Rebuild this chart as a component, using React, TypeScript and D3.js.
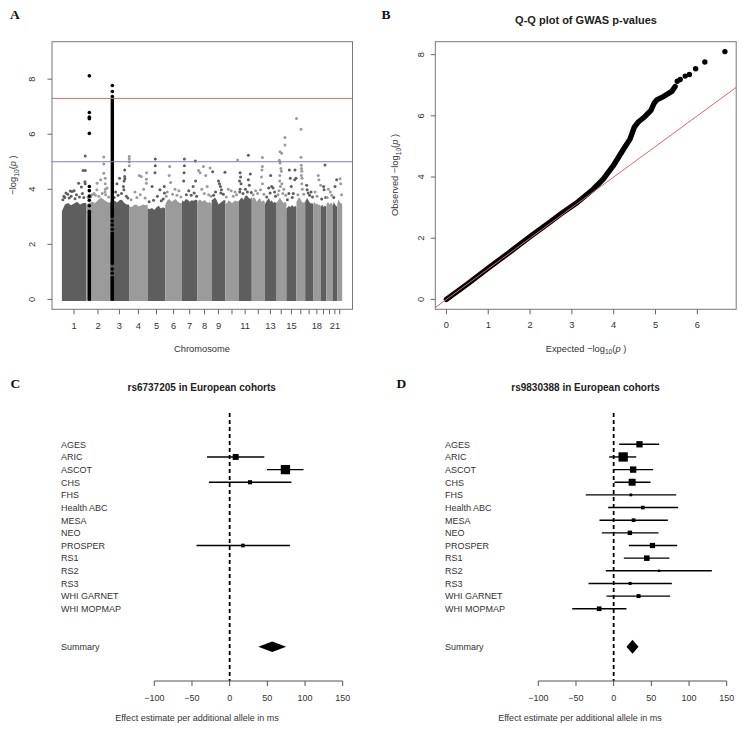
import React from "react";
import * as d3 from "d3";

// ---------- Panel A: Manhattan plot data ----------
const chromLengthsMb = [249, 243, 198, 191, 181, 171, 159, 146, 141, 136, 135, 134, 115, 107, 103, 90, 81, 78, 59, 63, 48, 51];
const chromTickLabels = ["1", "2", "3", "4", "5", "6", "7", "8", "9", "", "11", "", "13", "", "15", "", "", "18", "", "", "21", ""];
// upper edge of the dense SNP band, sampled evenly along each chromosome (-log10 p)
const bandTops = [
  [3.2, 3.45, 3.5, 3.42, 3.48, 3.55, 3.45, 3.5, 3.5],
  [3.45, 3.5, 3.55, 3.5, 3.6, 3.7, 3.62, 3.55, 3.5],
  [3.55, 3.5, 3.58, 3.52, 3.6, 3.62, 3.5, 3.45, 3.45],
  [3.4, 3.35, 3.42, 3.45, 3.38, 3.4, 3.45, 3.42, 3.45],
  [3.3, 3.28, 3.32, 3.25, 3.35, 3.4, 3.3, 3.35, 3.3],
  [3.45, 3.6, 3.65, 3.55, 3.6, 3.65, 3.55, 3.5, 3.5],
  [3.6, 3.55, 3.65, 3.62, 3.55, 3.6, 3.58, 3.62, 3.6],
  [3.5, 3.62, 3.6, 3.55, 3.62, 3.55, 3.5, 3.55, 3.45],
  [3.6, 3.65, 3.7, 3.6, 3.45, 3.5, 3.55, 3.6, 3.6],
  [3.45, 3.5, 3.6, 3.55, 3.5, 3.55, 3.6, 3.55, 3.6],
  [3.55, 3.65, 3.7, 3.62, 3.75, 3.78, 3.7, 3.65, 3.7],
  [3.6, 3.7, 3.68, 3.55, 3.62, 3.68, 3.55, 3.6, 3.55],
  [3.45, 3.55, 3.62, 3.68, 3.55, 3.6, 3.5, 3.55, 3.5],
  [3.5, 3.55, 3.62, 3.7, 3.62, 3.55, 3.5, 3.55, 3.5],
  [3.3, 3.35, 3.4, 3.35, 3.4, 3.42, 3.35, 3.4, 3.35],
  [3.55, 3.62, 3.7, 3.68, 3.62, 3.55, 3.5, 3.55, 3.5],
  [3.55, 3.62, 3.68, 3.62, 3.55, 3.5, 3.48, 3.5, 3.45],
  [3.45, 3.55, 3.5, 3.45, 3.5, 3.45, 3.42, 3.45, 3.4],
  [3.35, 3.4, 3.45, 3.4, 3.35, 3.4, 3.38, 3.4, 3.35],
  [3.45, 3.5, 3.55, 3.5, 3.45, 3.5, 3.48, 3.5, 3.45],
  [3.4, 3.45, 3.55, 3.5, 3.45, 3.42, 3.4, 3.38, 3.35],
  [3.45, 3.55, 3.62, 3.6, 3.55, 3.5, 3.48, 3.5, 3.45],
];
// individual SNPs above the band: [chromosome, position (Mb), -log10 p]
const fringeSnps: [number, number, number][] = [
  [1, 240, 5.21], [1, 218, 4.68], [1, 240, 4.68], [1, 172, 4.22], [1, 42, 3.86], [1, 86, 3.94], [1, 105, 3.92], [1, 125, 3.95], [1, 200, 4.08], [1, 240, 4.2], [1, 236, 4.27], [1, 150, 3.8], [1, 20, 3.75], [1, 60, 3.82],
  [1, 10, 3.62], [1, 30, 3.7], [1, 75, 3.68], [1, 95, 3.75], [1, 135, 3.66], [1, 180, 3.72], [1, 210, 3.85], [1, 225, 3.7],
  [2, 113, 4.22], [2, 110, 3.98], [2, 181, 5.17], [2, 181, 4.92], [2, 181, 4.58], [2, 196, 4.4], [2, 196, 4.2], [2, 198, 4.0], [2, 194, 3.9], [2, 150, 4.35], [2, 80, 3.85], [2, 215, 4.05], [2, 60, 3.8],
  [2, 20, 3.7], [2, 45, 3.72], [2, 95, 3.78], [2, 130, 3.75], [2, 165, 3.85], [2, 200, 3.8], [2, 230, 3.72],
  [3, 153, 4.7], [3, 153, 4.46], [3, 147, 4.3], [3, 140, 4.1], [3, 145, 3.98], [3, 100, 4.4], [3, 73, 4.2], [3, 155, 4.38], [3, 60, 3.9], [3, 120, 3.85],
  [3, 45, 3.7], [3, 85, 3.78], [3, 170, 3.75], [3, 185, 3.68],
  [4, 2, 5.19], [4, 2, 5.1], [4, 2, 5.0], [4, 2, 4.85], [4, 105, 4.5], [4, 125, 4.46], [4, 180, 4.6], [4, 178, 4.36], [4, 178, 4.22], [4, 60, 3.9], [4, 150, 4.0],
  [4, 20, 3.62], [4, 80, 3.7], [4, 115, 3.8], [4, 165, 3.68],
  [5, 78, 5.1], [5, 78, 4.85], [5, 75, 4.6], [5, 45, 4.1], [5, 126, 3.98], [5, 170, 4.1], [5, 172, 3.86], [5, 100, 3.75],
  [5, 15, 3.55], [5, 60, 3.6], [5, 140, 3.58], [5, 160, 3.65],
  [6, 45, 4.83], [6, 40, 4.5], [6, 55, 4.25], [6, 100, 4.0], [6, 140, 3.95], [6, 20, 3.9],
  [6, 10, 3.75], [6, 75, 3.82], [6, 120, 3.78], [6, 160, 3.72],
  [7, 25, 5.1], [7, 25, 4.85], [7, 22, 4.6], [7, 18, 4.3], [7, 137, 5.03], [7, 140, 4.3], [7, 115, 4.1], [7, 125, 3.86], [7, 70, 3.95],
  [7, 45, 3.8], [7, 95, 3.78], [7, 150, 3.75],
  [8, 12, 4.68], [8, 61, 4.83], [8, 130, 4.77], [8, 27, 4.6], [8, 85, 4.5], [8, 100, 4.1], [8, 45, 4.0],
  [8, 70, 3.85], [8, 115, 3.8], [8, 140, 3.75],
  [9, 11, 4.64], [9, 137, 4.62], [9, 70, 4.3], [9, 80, 4.2], [9, 90, 4.1], [9, 100, 3.98], [9, 95, 3.86], [9, 40, 3.9],
  [9, 20, 3.78], [9, 120, 3.82],
  [10, 126, 5.06], [10, 60, 3.95], [10, 100, 3.9], [10, 30, 4.0],
  [10, 10, 3.72], [10, 80, 3.75], [10, 115, 3.8],
  [11, 15, 4.6], [11, 20, 4.45], [11, 10, 4.3], [11, 25, 4.2], [11, 15, 4.0], [11, 12, 3.9], [11, 100, 5.24], [11, 120, 4.55], [11, 100, 4.35], [11, 110, 4.15], [11, 70, 4.0],
  [11, 45, 3.85], [11, 90, 3.9], [11, 130, 3.88],
  [12, 109, 5.15], [12, 109, 4.83], [12, 105, 4.7], [12, 100, 4.45], [12, 110, 4.2], [12, 90, 3.98], [12, 40, 3.95],
  [12, 15, 3.8], [12, 60, 3.85], [12, 125, 3.82],
  [13, 60, 4.5], [13, 40, 4.05], [13, 70, 4.1], [13, 85, 4.05], [13, 55, 3.86], [13, 100, 3.9],
  [13, 20, 3.72], [13, 110, 3.75],
  [14, 41, 5.36], [14, 58, 5.31], [14, 92, 5.88], [14, 92, 5.61], [14, 35, 5.05], [14, 41, 4.95], [14, 50, 4.75], [14, 55, 4.65], [14, 40, 4.5], [14, 38, 4.3], [14, 45, 4.1], [14, 30, 3.95], [14, 60, 4.2], [14, 80, 4.0],
  [14, 20, 3.8], [14, 70, 3.85], [14, 100, 3.78],
  [15, 30, 4.7], [15, 40, 4.4], [15, 50, 4.1], [15, 85, 4.35], [15, 98, 4.4], [15, 25, 3.85], [15, 70, 3.85], [15, 88, 4.7],
  [15, 10, 3.62], [15, 60, 3.7],
  [16, 1, 6.57], [16, 47, 6.18], [16, 47, 5.16], [16, 50, 4.87], [16, 52, 4.75], [16, 55, 4.65], [16, 50, 4.5], [16, 58, 4.4], [16, 55, 4.2], [16, 60, 4.0],
  [16, 15, 3.8], [16, 75, 3.82],
  [17, 15, 4.15], [17, 20, 3.98], [17, 30, 3.86], [17, 60, 3.9],
  [17, 45, 3.78], [17, 75, 3.72],
  [18, 53, 4.5], [18, 60, 4.35], [18, 78, 4.15], [18, 20, 3.9],
  [18, 40, 3.75],
  [19, 45, 4.88], [19, 30, 4.1], [19, 35, 3.98],
  [19, 10, 3.65], [19, 52, 3.7],
  [20, 40, 3.9], [20, 55, 3.78], [20, 20, 4.0],
  [20, 8, 3.7],
  [21, 42, 4.35], [21, 25, 4.1],
  [21, 12, 3.7],
  [22, 29, 4.38], [22, 36, 4.2],
  [22, 45, 3.8],
];
// highlighted loci (black): chromosome, position, dense runs and separate SNPs
const leadChroms = [2, 3];
const leadPositionsMb = [33, 26];
const leadRuns: [number, number][][] = [
  [[0, 3.2]],
  [[0, 0.8], [1.3, 2.4], [3.0, 7.3]],
];
const leadPoints: number[][] = [
  [3.4, 3.6, 3.75, 3.95, 4.1, 6.03, 6.56, 6.62, 6.79, 8.12],
  [0.95, 1.1, 2.55, 2.7, 2.85, 7.37, 7.55, 7.77],
];
const manhattanYTicks = [0, 2, 4, 6, 8];
const genomeWideLine = 7.3;
const suggestiveLine = 5;

// ---------- Panel B: Q-Q plot data ----------
const qqCurve: [number, number][] = [
  [0, 0], [0.5, 0.5], [1, 1.02], [1.5, 1.53], [2, 2.05], [2.5, 2.55], [2.72, 2.78], [3.12, 3.16], [3.51, 3.6], [3.75, 3.93],
  [3.99, 4.37], [4.23, 4.9], [4.39, 5.24], [4.49, 5.62], [4.59, 5.8], [4.75, 5.98], [4.89, 6.18], [4.97, 6.42], [5.03, 6.52],
  [5.19, 6.63], [5.39, 6.8], [5.47, 6.96],
];
const qqTail: [number, number][] = [
  [5.52, 7.13], [5.59, 7.19], [5.71, 7.3], [5.81, 7.35], [5.96, 7.54], [6.18, 7.76], [6.66, 8.1],
];
const qqXTicks = [0, 1, 2, 3, 4, 5, 6];
const qqYTicks = [0, 2, 4, 6, 8];

// ---------- Panels C & D: forest plots ----------
const cohorts = ["AGES", "ARIC", "ASCOT", "CHS", "FHS", "Health ABC", "MESA", "NEO", "PROSPER", "RS1", "RS2", "RS3", "WHI GARNET", "WHI MOPMAP"];
const cEst = [null, 8, 74, 27, null, null, null, null, 17.6, null, null, null, null, null];
const cLo = [null, -30, 49.5, -27.5, null, null, null, null, -44, null, null, null, null, null];
const cHi = [null, 46, 98, 82, null, null, null, null, 80, null, null, null, null, null];
const cSummary = [38, 56.5, 75];
const dEst = [34.3, 12.6, 25.9, 24.5, 22.8, 38.7, 26.4, 21.5, 51.5, 44, 60.4, 21.9, 33, -19.2];
const dLo = [7.3, -6, -0.3, 1, -37, -7.3, -18.8, -15.7, 20.1, 13.5, -10.4, -33.4, -9.5, -55];
const dHi = [60.4, 30, 52.4, 48.9, 83, 85.6, 71.9, 59.5, 84.3, 74, 130.3, 77.2, 75, 17];
const dSummary = [17, 25, 33];
const forestTicks = [-100, -50, 0, 50, 100, 150];

const SANS = "Liberation Sans, Arial, Helvetica, sans-serif";
const SERIF = "Liberation Serif, Times New Roman, serif";

function LogP({ prefix }: { prefix?: string }) {
  return (
    <>
      {prefix}−log<tspan fontSize="0.72em" dy="2.5">10</tspan>
      <tspan dy="-2.5">(</tspan>
      <tspan fontStyle="italic">p</tspan> )
    </>
  );
}

function Manhattan() {
  const starts: number[] = [];
  chromLengthsMb.forEach((l, i) => starts.push(i === 0 ? 0 : starts[i - 1] + chromLengthsMb[i - 1]));
  const total = d3.sum(chromLengthsMb);
  const x = d3.scaleLinear().domain([0, total]).range([61.9, 342.2]);
  const y = d3.scaleLinear().domain([-0.36, 9.36]).range([309.3, 41.7]);
  const box = { l: 52, r: 352.5, t: 41.7, b: 309.3 };
  const dark = "#5e5e5e";
  const light = "#9b9b9b";
  const colorOf = (chr: number) => (chr % 2 === 1 ? dark : light);
  const area = d3
    .area<[number, number]>()
    .x((d) => x(d[0]))
    .y0(y(0) + 1.6)
    .y1((d) => y(d[1]));
  return (
    <g>
      {bandTops.map((tops, i) => {
        const n = tops.length;
        const pts: [number, number][] = tops.map((v, k) => [starts[i] + (chromLengthsMb[i] * k) / (n - 1), v]);
        return <path key={"b" + i} d={area(pts) || ""} fill={colorOf(i + 1)} />;
      })}
      {fringeSnps.map(([c, p, v], i) => (
        <circle key={"f" + i} cx={x(starts[c - 1] + p)} cy={y(v)} r={1.5} fill={colorOf(c)} />
      ))}
      {leadChroms.map((c, j) => {
        const cx = x(starts[c - 1] + leadPositionsMb[j]);
        return (
          <g key={"l" + j}>
            {leadRuns[j].map(([a, b], k) => (
              <line key={k} x1={cx} x2={cx} y1={y(a)} y2={y(b)} stroke="#000" strokeWidth={3.4} strokeLinecap="round" />
            ))}
            {leadPoints[j].map((v, k) => (
              <circle key={"p" + k} cx={cx} cy={y(v)} r={1.8} fill="#000" />
            ))}
          </g>
        );
      })}
      <line x1={box.l} x2={box.r} y1={y(genomeWideLine)} y2={y(genomeWideLine)} stroke="#e46a6a" strokeWidth={1} />
      <line x1={box.l} x2={box.r} y1={y(suggestiveLine)} y2={y(suggestiveLine)} stroke="#7a7ad8" strokeWidth={1} />
      <rect x={box.l} y={box.t} width={box.r - box.l} height={box.b - box.t} fill="none" stroke="#777" strokeWidth={1} />
      {manhattanYTicks.map((t) => (
        <g key={"yt" + t}>
          <line x1={box.l} x2={box.l - 4.5} y1={y(t)} y2={y(t)} stroke="#666" />
          <text transform={`translate(35,${y(t)}) rotate(-90)`} textAnchor="middle" fontSize={9.3} fill="#333">
            {t}
          </text>
        </g>
      ))}
      {chromLengthsMb.map((l, i) => {
        const cx = x(starts[i] + l / 2);
        return (
          <g key={"xt" + i}>
            <line x1={cx} x2={cx} y1={box.b} y2={box.b + 5} stroke="#666" />
            {chromTickLabels[i] && (
              <text x={cx} y={328.5} textAnchor="middle" fontSize={9.3} fill="#333">
                {chromTickLabels[i]}
              </text>
            )}
          </g>
        );
      })}
      <text x={202} y={351.5} textAnchor="middle" fontSize={9.3} fill="#333">
        Chromosome
      </text>
      <text transform={`translate(16,175) rotate(-90)`} textAnchor="middle" fontSize={9.3} fill="#333">
        <LogP />
      </text>
      <text x={10} y={18.5} fontFamily={SERIF} fontWeight="bold" fontSize={13.5} fill="#111">
        A
      </text>
    </g>
  );
}

function QQ() {
  const x = d3.scaleLinear().domain([-0.266, 6.93]).range([435.3, 736.2]);
  const y = d3.scaleLinear().domain([-0.324, 8.424]).range([309.3, 41.7]);
  const box = { l: 435.3, r: 736.2, t: 41.7, b: 309.3 };
  const line = d3
    .line<[number, number]>()
    .x((d) => x(d[0]))
    .y((d) => y(d[1]));
  const [d0, d1] = x.domain();
  return (
    <g>
      <path d={line(qqCurve) || ""} fill="none" stroke="#000" strokeWidth={5.4} strokeLinecap="round" strokeLinejoin="round" />
      {qqTail.map((d, i) => (
        <circle key={i} cx={x(d[0])} cy={y(d[1])} r={2.7} fill="#000" />
      ))}
      <line x1={x(d0)} y1={y(d0)} x2={x(d1)} y2={y(d1)} stroke="#cf6b6b" strokeWidth={1} />
      <rect x={box.l} y={box.t} width={box.r - box.l} height={box.b - box.t} fill="none" stroke="#777" strokeWidth={1} />
      {qqYTicks.map((t) => (
        <g key={"yt" + t}>
          <line x1={box.l} x2={box.l - 4.5} y1={y(t)} y2={y(t)} stroke="#666" />
          <text transform={`translate(424,${y(t)}) rotate(-90)`} textAnchor="middle" fontSize={9.3} fill="#333">
            {t}
          </text>
        </g>
      ))}
      {qqXTicks.map((t) => (
        <g key={"xt" + t}>
          <line x1={x(t)} x2={x(t)} y1={box.b} y2={box.b + 5} stroke="#666" />
          <text x={x(t)} y={328} textAnchor="middle" fontSize={9.3} fill="#333">
            {t}
          </text>
        </g>
      ))}
      <text x={586} y={351.5} textAnchor="middle" fontSize={9.3} fill="#333">
        <LogP prefix="Expected " />
      </text>
      <text transform={`translate(398,175) rotate(-90)`} textAnchor="middle" fontSize={9.3} fill="#333">
        <LogP prefix="Observed " />
      </text>
      <text x={586} y={24} textAnchor="middle" fontSize={11} fontWeight="bold" fill="#222">
        Q-Q plot of GWAS p-values
      </text>
      <text x={381.5} y={18.5} fontFamily={SERIF} fontWeight="bold" fontSize={13.5} fill="#111">
        B
      </text>
    </g>
  );
}

type ForestProps = {
  letter: string;
  letterX: number;
  title: string;
  titleX: number;
  labelX: number;
  range: [number, number];
  est: (number | null)[];
  lo: (number | null)[];
  hi: (number | null)[];
  summary: number[];
  xLabelX: number;
};

function Forest(props: ForestProps) {
  const { letter, letterX, title, titleX, labelX, range, est, lo, hi, summary, xLabelX } = props;
  const x = d3.scaleLinear().domain([-100, 150]).range(range);
  const rowY = (i: number) => 444.3 + i * 12.65;
  const summaryRow = cohorts.length + 2;
  const axisY = 681;
  const widths = est.map((e, i) => (e === null ? Infinity : (hi[i] as number) - (lo[i] as number)));
  const minW = d3.min(widths) as number;
  const maxBox = 9.3;
  const [sLo, sEst, sHi] = summary;
  const sh = (maxBox * Math.sqrt(minW / (sHi - sLo))) / 2;
  const sy = rowY(summaryRow);
  return (
    <g>
      <text x={letterX} y={388} fontFamily={SERIF} fontWeight="bold" fontSize={13.5} fill="#111">
        {letter}
      </text>
      <text x={titleX} y={391} textAnchor="middle" fontSize={10} fontWeight="bold" fill="#222">
        {title}
      </text>
      {cohorts.map((c, i) => (
        <text key={c} x={labelX} y={rowY(i) + 3.3} fontSize={9} fill="#333">
          {c}
        </text>
      ))}
      <text x={labelX} y={sy + 3.3} fontSize={9} fill="#333">
        Summary
      </text>
      <line x1={x(0)} x2={x(0)} y1={413} y2={axisY} stroke="#000" strokeWidth={1.8} strokeDasharray="4,3" />
      {est.map((e, i) => {
        if (e === null) return null;
        const s = (maxBox * minW) / widths[i];
        return (
          <g key={"r" + i}>
            <line x1={x(lo[i] as number)} x2={x(hi[i] as number)} y1={rowY(i)} y2={rowY(i)} stroke="#000" strokeWidth={1.4} />
            <rect x={x(e) - s / 2} y={rowY(i) - s / 2} width={s} height={s} fill="#000" />
          </g>
        );
      })}
      <polygon
        points={`${x(sLo)},${sy} ${x(sEst)},${sy - sh} ${x(sHi)},${sy} ${x(sEst)},${sy + sh}`}
        fill="#000"
      />
      <line x1={x(-100)} x2={x(150)} y1={axisY} y2={axisY} stroke="#555" />
      {forestTicks.map((t) => (
        <g key={"t" + t}>
          <line x1={x(t)} x2={x(t)} y1={axisY} y2={axisY + 5} stroke="#555" />
          <text x={x(t)} y={701} textAnchor="middle" fontSize={9} fill="#333">
            {t < 0 ? "−" + Math.abs(t) : t}
          </text>
        </g>
      ))}
      <text x={xLabelX} y={721} textAnchor="middle" fontSize={9} fill="#333">
        Effect estimate per additional allele in ms
      </text>
    </g>
  );
}

export default function App() {
  return (
    <svg
      width={754}
      height={735}
      style={{ position: "absolute", left: 0, top: 0, background: "#fff" }}
      fontFamily={SANS}
    >
      <rect width={754} height={735} fill="#fff" />
      <Manhattan />
      <QQ />
      <Forest
        letter="C"
        letterX={10.5}
        title="rs6737205 in European cohorts"
        titleX={201.7}
        labelX={61}
        range={[154.3, 342.7]}
        est={cEst}
        lo={cLo}
        hi={cHi}
        summary={cSummary}
        xLabelX={197}
      />
      <Forest
        letter="D"
        letterX={396.5}
        title="rs9830388 in European cohorts"
        titleX={585.5}
        labelX={445}
        range={[538.3, 726.7]}
        est={dEst}
        lo={dLo}
        hi={dHi}
        summary={dSummary}
        xLabelX={580}
      />
    </svg>
  );
}
